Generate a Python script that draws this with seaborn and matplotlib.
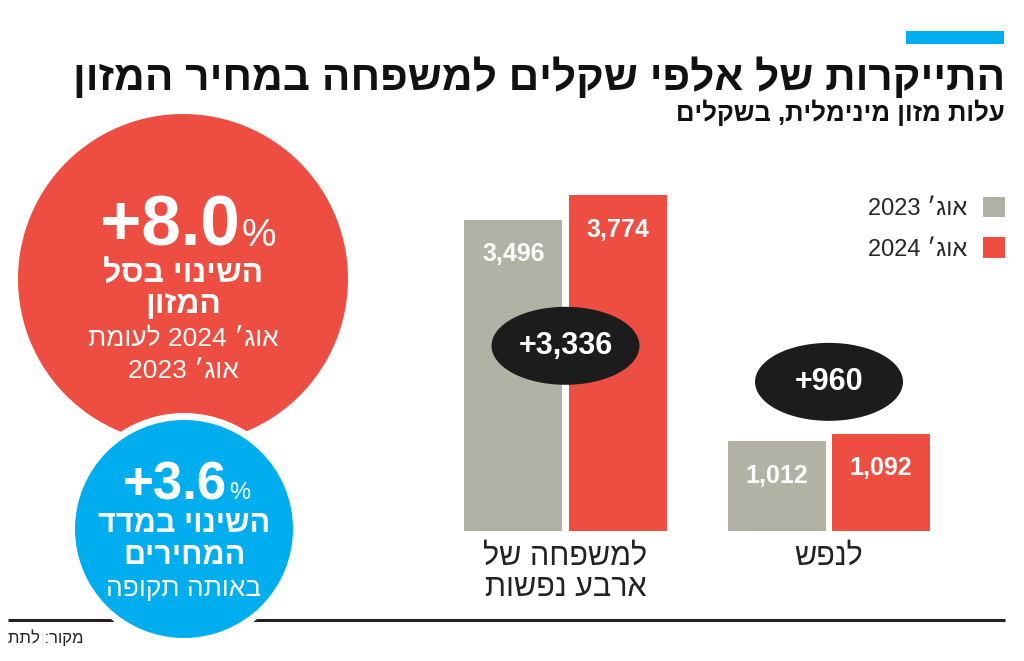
import numpy as np
import pandas as pd
import matplotlib
matplotlib.use("Agg")
import matplotlib.pyplot as plt
import seaborn as sns
from matplotlib.patches import Circle, Ellipse, Rectangle

# ---------------- data ----------------
categories = ["למשפחה של\nארבע נפשות", "לנפש"]
periods = ["אוג׳ 2023", "אוג׳ 2024"]
values_2023 = [3496, 1012]
values_2024 = [3774, 1092]
diff_labels = ["+3,336", "+960"]
title = "התייקרות של אלפי שקלים למשפחה במחיר המזון"
subtitle = "עלות מזון מינימלית, בשקלים"
food_change = "+8.0"
food_lines = ["השינוי בסל", "המזון", "אוג׳ 2024 לעומת", "אוג׳ 2023"]
cpi_change = "+3.6"
cpi_lines = ["השינוי במדד", "המחירים", "באותה תקופה"]
source = "מקור: לתת"

# ---------------- style ----------------
RED = "#EE4D41"
GRAY = "#B2B1A5"
BLUE = "#00AEEF"
DARK = "#1C1C1C"

sns.set_style("white")
plt.rcParams["font.family"] = ["Liberation Sans", "DejaVu Sans"]


def rtl(s):
    """Convert logical-order Hebrew text to visual order for matplotlib."""
    out = []
    for line in s.split("\n"):
        words = line.split(" ")
        vis = [w[::-1] if any("\u0590" <= c <= "\u05ff" for c in w) else w
               for w in reversed(words)]
        out.append(" ".join(vis))
    return "\n".join(out)


W, H = 1024, 661
fig = plt.figure(figsize=(W / 100, H / 100), dpi=100)

# overlay axes in pixel coordinates
ov = fig.add_axes([0, 0, 1, 1], zorder=0)
ov.set_xlim(0, W)
ov.set_ylim(H, 0)
ov.axis("off")

# top accent bar
ov.add_patch(Rectangle((906, 31), 98, 13, color=BLUE, lw=0))
ov.text(1005, 78, rtl(title), ha="right", va="center", fontsize=30.5,
        fontweight="bold", color="#111111")
ov.text(1005, 113, rtl(subtitle), ha="right", va="center", fontsize=18.5,
        fontweight="bold", color="#111111")

# baseline
ov.plot([8, 1005], [620, 620], color="#222222", lw=2.2, zorder=1,
        solid_capstyle="butt")

# circles
ov.add_patch(Circle((183, 279), 165, color=RED, lw=0, zorder=2))
ov.add_patch(Circle((184, 529), 116, color="white", lw=0, zorder=3))
ov.add_patch(Circle((184, 529), 109, color=BLUE, lw=0, zorder=4))

# red circle text
ov.text(240, 246, food_change, ha="right", va="baseline", fontsize=51,
        fontweight="bold", color="white", zorder=5)
ov.text(242, 246, "%", ha="left", va="baseline", fontsize=28,
        color="white", zorder=5)
ov.text(183, 275, rtl(food_lines[0]), ha="center", va="center", fontsize=23,
        fontweight="bold", color="white", zorder=5)
ov.text(183, 305, rtl(food_lines[1]), ha="center", va="center", fontsize=23,
        fontweight="bold", color="white", zorder=5)
ov.text(183, 339, rtl(food_lines[2]), ha="center", va="center", fontsize=19,
        color="white", zorder=5)
ov.text(183, 371, rtl(food_lines[3]), ha="center", va="center", fontsize=19,
        color="white", zorder=5)

# blue circle text
ov.text(227, 499, cpi_change, ha="right", va="baseline", fontsize=38,
        fontweight="bold", color="white", zorder=5)
ov.text(229, 499, "%", ha="left", va="baseline", fontsize=17,
        color="white", zorder=5)
ov.text(184, 524, rtl(cpi_lines[0]), ha="center", va="center", fontsize=22,
        fontweight="bold", color="white", zorder=5)
ov.text(184, 556, rtl(cpi_lines[1]), ha="center", va="center", fontsize=22,
        fontweight="bold", color="white", zorder=5)
ov.text(184, 589, rtl(cpi_lines[2]), ha="center", va="center", fontsize=19,
        color="white", zorder=5)

# source
ov.text(8, 638, rtl(source), ha="left", va="center", fontsize=12,
        color="#222222")

# ---------------- bar chart ----------------
ax_left, ax_right, ax_top, ax_bottom = 440, 1010, 180, 531
ax = fig.add_axes([ax_left / W, (H - ax_bottom) / H,
                   (ax_right - ax_left) / W, (ax_bottom - ax_top) / H], zorder=2)
ax.patch.set_alpha(0)

df = pd.DataFrame({
    "category": [rtl(c) for c in categories] * 2,
    "period": [rtl(periods[0])] * len(categories) + [rtl(periods[1])] * len(categories),
    "value": values_2023 + values_2024,
})

sns.barplot(data=df, x="category", y="value", hue="period",
            order=[rtl(c) for c in categories],
            hue_order=[rtl(p) for p in periods],
            palette=[GRAY, RED], width=0.79, gap=0.058, linewidth=0,
            saturation=1, ax=ax)

ymax = 3942
ax.set_ylim(0, ymax)
ax.set_xlim(-0.4763, 1.6869)
sns.despine(ax=ax, left=True, bottom=True)
ax.set_yticks([])
ax.set_xlabel("")
ax.set_ylabel("")
ax.tick_params(axis="x", length=0, pad=8, labelsize=22, labelcolor="#222222")
for t in ax.get_xticklabels():
    t.set_linespacing(1.05)

# value labels inside bars
for cont in ax.containers:
    for bar in cont:
        h = bar.get_height()
        ax.annotate(f"{h:,.0f}", xy=(bar.get_x() + bar.get_width() / 2, h),
                    xytext=(0, -25), textcoords="offset points",
                    ha="center", va="center", fontsize=18, fontweight="bold",
                    color="white")

# difference ellipses
px_per_x = (ax_right - ax_left) / (1.6869 + 0.4763)
px_per_y = (ax_bottom - ax_top) / ymax
ellipse_y = [2080, 1675]
for i, (lab, ey) in enumerate(zip(diff_labels, ellipse_y)):
    ax.add_patch(Ellipse((i, ey), width=148 / px_per_x, height=78 / px_per_y,
                         color=DARK, lw=0, zorder=5))
    ax.text(i, ey, lab, ha="center", va="center", fontsize=22,
            fontweight="bold", color="white", zorder=6)

# legend on the right, squares after text
leg = ax.get_legend()
handles = leg.legend_handles
labels = [t.get_text() for t in leg.get_texts()]
leg.remove()
ax.legend(handles, labels, markerfirst=False, frameon=False,
          loc="upper right", bbox_to_anchor=(1005 / W, (H - 197) / H),
          bbox_transform=fig.transFigure, borderpad=0, borderaxespad=0,
          fontsize=17, handlelength=0.95, handleheight=0.95,
          handletextpad=0.65, labelspacing=0.72)

fig.savefig("out.png", dpi=100)
